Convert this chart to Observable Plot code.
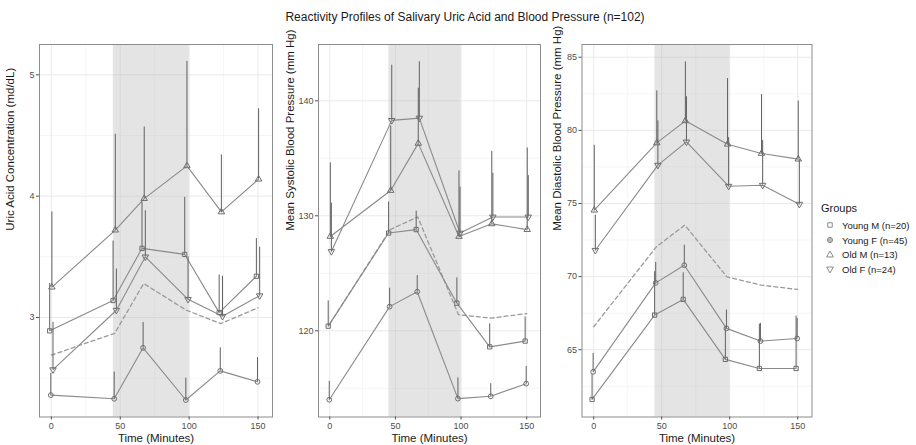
<!DOCTYPE html>
<html>
<head>
<meta charset="utf-8">
<script src="https://cdn.jsdelivr.net/npm/d3@7"></script>
<script src="https://cdn.jsdelivr.net/npm/@observablehq/plot@0.6"></script>
<style>
  html, body { margin: 0; padding: 0; background: #fff; }
  #root { position: relative; width: 916px; height: 445px; font-family: "Liberation Sans", Arial, sans-serif; overflow: hidden; }
  #root svg { position: absolute; top: 0; font-family: "Liberation Sans", Arial, sans-serif; }
  .title { position: absolute; top: 10px; left: 465px; transform: translateX(-50%); font-size: 12px; color: #1a1a1a; white-space: nowrap; }
  .legend { position: absolute; left: 821px; top: 202px; font-size: 9.5px; color: #1a1a1a; }
  .legend .lt { font-size: 11px; margin-bottom: 4px; }
  .legend .row { display: flex; align-items: center; height: 14.7px; }
  .legend svg { position: static !important; margin-right: 6px; margin-left: 3px; }
</style>
</head>
<body>
<div id="root">
  <div class="title">Reactivity Profiles of Salivary Uric Acid and Blood Pressure (n=102)</div>
</div>
<script>
// ---------- data ----------
const times = [0, 46, 67, 98, 123, 150];
const groups = ["Young M (n=20)", "Young F (n=45)", "Old M (n=13)", "Old F (n=24)"];
const xTicks = [0, 50, 100, 150];
const stressStart = 45, stressEnd = 100;

// Uric acid (mg/dL): means and upper error-bar ends, order = groups
const uaMean = [
  [2.89, 3.14, 3.57, 3.52, 3.04, 3.34],
  [2.36, 2.33, 2.75, 2.32, 2.56, 2.47],
  [3.25, 3.72, 3.98, 4.25, 3.87, 4.14],
  [2.57, 3.06, 3.50, 3.15, 3.01, 3.18]
];
const uaHigh = [
  [3.28, 3.63, 3.95, 3.99, 3.35, 3.65],
  [2.54, 2.55, 2.96, 2.50, 2.75, 2.67],
  [3.87, 4.51, 4.57, 5.11, 4.34, 4.72],
  [2.96, 3.40, 3.88, 3.50, 3.34, 3.58]
];
const uaAll = [2.69, 2.87, 3.28, 3.06, 2.95, 3.08];
const uaTicks = [3, 4, 5];

// Systolic BP (mm Hg)
const sbpMean = [
  [120.4, 128.5, 128.8, 122.4, 118.6, 119.1],
  [114.0, 122.1, 123.4, 114.1, 114.3, 115.4],
  [128.2, 132.2, 136.3, 128.2, 129.3, 128.8],
  [126.9, 138.3, 138.5, 128.5, 129.9, 129.9]
];
const sbpHigh = [
  [122.6, 131.2, 130.4, 124.6, 120.6, 121.2],
  [115.6, 123.7, 124.8, 115.9, 115.4, 116.9],
  [134.6, 137.8, 141.1, 133.9, 135.6, 135.9],
  [131.1, 143.1, 143.4, 132.5, 133.7, 133.5]
];
const sbpAll = [120.6, 128.8, 129.9, 121.4, 121.1, 121.5];
const sbpTicks = [120, 130, 140];

// Diastolic BP (mm Hg)
const dbpMean = [
  [61.6, 67.37, 68.44, 64.34, 63.72, 63.72],
  [63.49, 69.57, 70.78, 66.46, 65.59, 65.77],
  [74.54, 79.14, 80.65, 79.05, 78.42, 78.03],
  [71.8, 77.62, 79.21, 76.18, 76.25, 74.95]
];
const dbpHigh = [
  [63.3, 70.33, 70.26, 66.46, 66.75, 67.3],
  [64.75, 70.97, 72.15, 67.71, 66.8, 67.14],
  [78.98, 82.7, 84.68, 83.54, 82.45, 82.0],
  [74.2, 80.65, 82.3, 79.5, 79.3, 78.0]
];
const dbpAll = [66.57, 72.03, 73.52, 69.98, 69.42, 69.12];
const dbpTicks = [65, 70, 75, 80, 85];

// ---------- rendering ----------
const dodge = [-1.2, -0.4, 0.4, 1.2];
const triangleDown = {
  draw(ctx, size) {
    const y = -Math.sqrt(size / (Math.sqrt(3) * 3));
    ctx.moveTo(0, -y * 2);
    ctx.lineTo(-Math.sqrt(3) * y, y);
    ctx.lineTo(Math.sqrt(3) * y, y);
    ctx.closePath();
  }
};
const symbols = ["square", "circle", "triangle", triangleDown];

const font = "Liberation Sans, Arial, sans-serif";
const panels = [
  {left: 0, width: 275, ml: 39, mr: 3, domain: [2.18, 5.25], ticks: uaTicks, mean: uaMean, high: uaHigh, all: uaAll,
   label: "Uric Acid Concentration (md/dL)", ldx: -29},
  {left: 276, width: 267, ml: 42, mr: 3, domain: [112.5, 144.9], ticks: sbpTicks, mean: sbpMean, high: sbpHigh, all: sbpAll,
   label: "Mean Systolic Blood Pressure (mm Hg)", ldx: -28},
  {left: 545, width: 270, ml: 36.5, mr: 3.5, domain: [60.4, 85.87], ticks: dbpTicks, mean: dbpMean, high: dbpHigh, all: dbpAll,
   label: "Mean Diastolic Blood Pressure (mm Hg)", ldx: -25}
];

const root = document.getElementById("root");

for (const p of panels) {
  const step = p.ticks[1] - p.ticks[0];
  const minorY = [];
  for (let v = p.ticks[0] - step; v <= p.ticks[p.ticks.length - 1] + step; v += step) {
    const m = v + step / 2;
    if (m > p.domain[0] && m < p.domain[1]) minorY.push(m);
  }
  const rows = [];
  groups.forEach((g, gi) => {
    times.forEach((t, ti) => {
      rows.push({g: gi, t: t + dodge[gi], y: p.mean[gi][ti], hi: p.high[gi][ti]});
    });
  });
  const allRows = times.map((t, i) => ({t, y: p.all[i]}));

  const marks = [
    Plot.ruleY(minorY, {stroke: "#f3f3f3", strokeWidth: 0.8}),
    Plot.ruleX([25, 75, 125], {stroke: "#f3f3f3", strokeWidth: 0.8}),
    Plot.ruleY(p.ticks.filter(v => v > p.domain[0] && v < p.domain[1]), {stroke: "#e9e9e9", strokeWidth: 1}),
    Plot.ruleX(xTicks, {stroke: "#e9e9e9", strokeWidth: 1}),
    Plot.rect([{x1: stressStart, x2: stressEnd}], {x1: "x1", x2: "x2", fill: "#bfbfbf", fillOpacity: 0.42}),
    Plot.line(allRows, {x: "t", y: "y", stroke: "#9a9a9a", strokeWidth: 1.3, strokeDasharray: "4,3"}),
  ];
  groups.forEach((g, gi) => {
    const d = rows.filter(r => r.g === gi);
    marks.push(Plot.line(d, {x: "t", y: "y", stroke: "#8a8a8a", strokeWidth: 1.1}));
  });
  marks.push(Plot.ruleX(rows, {x: "t", y1: "y", y2: "hi", stroke: "#606060", strokeWidth: 1}));
  groups.forEach((g, gi) => {
    const d = rows.filter(r => r.g === gi);
    marks.push(Plot.dot(d, {x: "t", y: "y", symbol: symbols[gi], r: 2.4, stroke: "#6e6e6e", fill: "none", strokeWidth: 1}));
  });
  marks.push(
    Plot.frame({stroke: "#8c8c8c", strokeWidth: 1}),
    Plot.axisX({ticks: xTicks, tickSize: 3, tickPadding: 3, fontSize: 9, color: "#4d4d4d", label: null}),
    Plot.axisY({ticks: p.ticks, tickFormat: d => String(d), tickSize: 3, tickPadding: 2, fontSize: 9, color: "#4d4d4d", label: null}),
    Plot.text([p.label], {frameAnchor: "left", rotate: -90, dx: p.ldx, fontSize: 11.5, fill: "#1a1a1a", text: d => d}),
    Plot.text(["Time (Minutes)"], {frameAnchor: "bottom", dy: 21.5, lineAnchor: "middle", fontSize: 11.5, fill: "#1a1a1a", text: d => d})
  );

  const svg = Plot.plot({
    width: p.width,
    height: 445,
    marginTop: 44,
    marginBottom: 28.5,
    marginLeft: p.ml,
    marginRight: p.mr,
    style: {fontFamily: font, background: "transparent", overflow: "visible"},
    x: {domain: [-8.6, 160.5]},
    y: {domain: p.domain},
    marks
  });
  svg.style.left = p.left + "px";
  root.appendChild(svg);
}

// legend
const legend = document.createElement("div");
legend.className = "legend";
const lt = document.createElement("div");
lt.className = "lt";
lt.textContent = "Groups";
legend.appendChild(lt);
groups.forEach((g, gi) => {
  const row = document.createElement("div");
  row.className = "row";
  const s = d3.create("svg").attr("width", 12).attr("height", 12);
  const type = gi === 0 ? d3.symbolSquare : gi === 1 ? d3.symbolCircle : gi === 2 ? d3.symbolTriangle : triangleDown;
  s.append("path").attr("transform", "translate(6,6)")
    .attr("d", d3.symbol(type, 20)())
    .attr("fill", gi === 1 ? "#bbb" : "none").attr("stroke", "#8a8a8a").attr("stroke-width", 1);
  row.appendChild(s.node());
  const t = document.createElement("span");
  t.textContent = g;
  row.appendChild(t);
  legend.appendChild(row);
});
root.appendChild(legend);
</script>
</body>
</html>
